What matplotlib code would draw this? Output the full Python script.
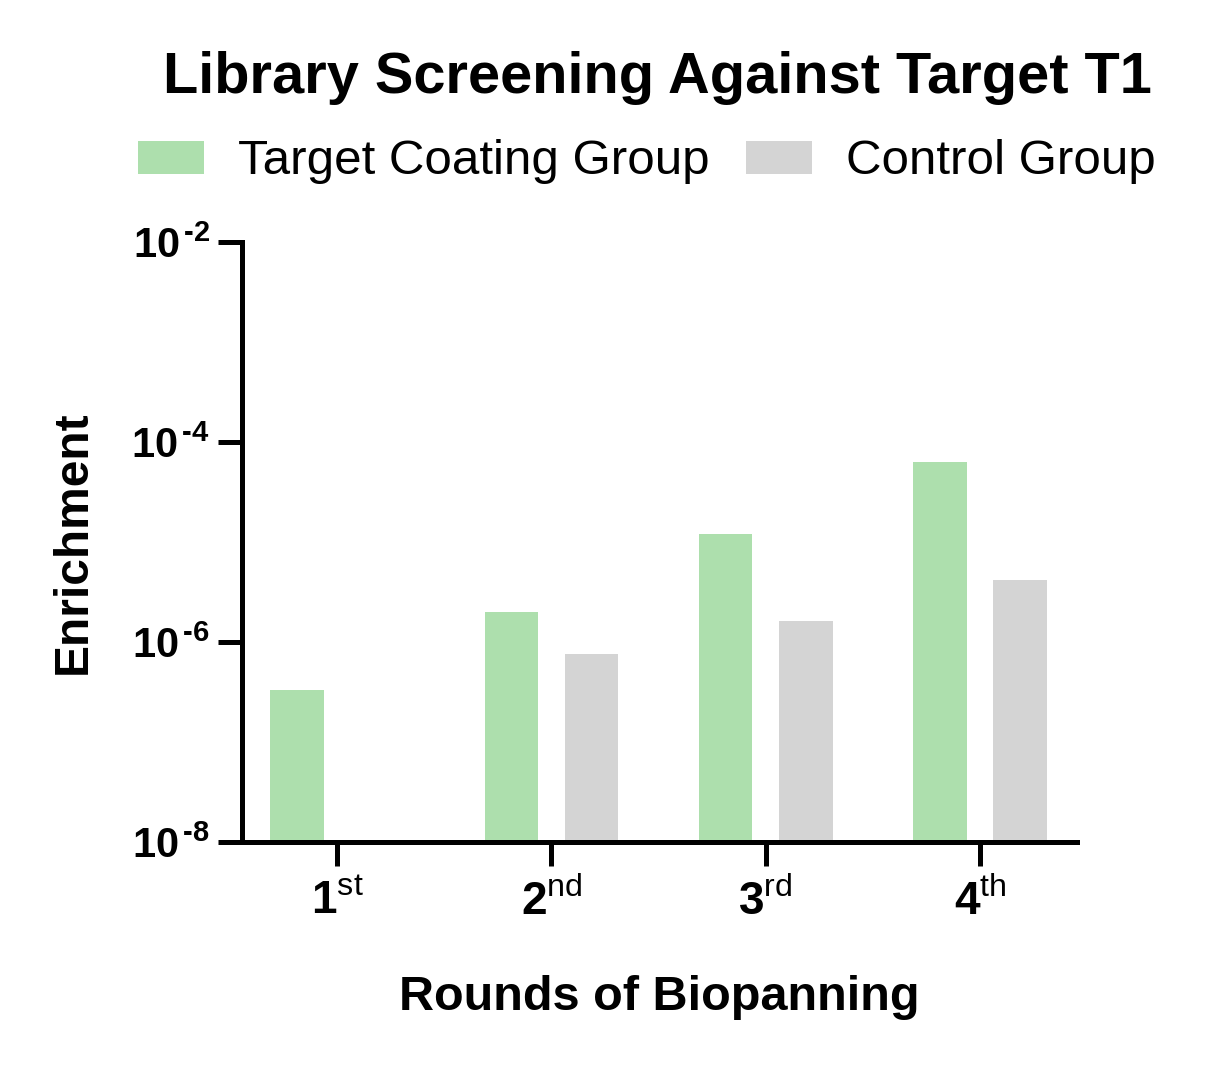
import numpy as np
import matplotlib
matplotlib.use("Agg")
import matplotlib.pyplot as plt
from matplotlib.ticker import FixedLocator, FuncFormatter

# -----------------------------
# Data
# -----------------------------
rounds = ["1", "2", "3", "4"]
suffixes = ["st", "nd", "rd", "th"]
target_coating = [3.2e-7, 2.0e-6, 1.2e-5, 6.3e-5]
control_group = [np.nan, 7.4e-7, 1.6e-6, 4.2e-6]

green = "#addfad"
grey = "#d4d4d4"

plt.rcParams["font.family"] = ["Liberation Sans", "DejaVu Sans"]
plt.rcParams["mathtext.fontset"] = "custom"
plt.rcParams["mathtext.rm"] = "Liberation Sans"
plt.rcParams["mathtext.it"] = "Liberation Sans:italic"
plt.rcParams["mathtext.bf"] = "Liberation Sans:bold"

fig = plt.figure(figsize=(12.18, 10.67), dpi=100)
ax = fig.add_axes([242 / 1218, 1 - 842 / 1067, (1077 - 242) / 1218, 600 / 1067])

x = np.arange(len(rounds))
w = 0.25
off = 0.187
ax.bar(x - off, target_coating, width=w, bottom=1e-8, color=green,
       label="Target Coating Group")
ax.bar(x + off, control_group, width=w, bottom=1e-8, color=grey,
       label="Control Group")

ax.set_yscale("log")
ax.set_ylim(1e-8, 1e-2)
ax.set_xlim(-0.444, 3.453)

# y labels like "10 -2" with a hyphen
ax.yaxis.set_major_locator(FixedLocator([1e-8, 1e-6, 1e-4, 1e-2]))
ax.yaxis.set_minor_locator(FixedLocator([]))
ax.yaxis.set_major_formatter(FuncFormatter(
    lambda v, p: "$\\mathbf{10}^{\\,\\mathbf{\u2010%d}}$" % abs(round(np.log10(v)))))

ax.set_xticks(x)
ax.set_xticklabels([r"$\mathbf{%s}^{\mathrm{%s}}$" % (r, s)
                    for r, s in zip(rounds, suffixes)])

for side in ["top", "right"]:
    ax.spines[side].set_visible(False)
for side in ["left", "bottom"]:
    ax.spines[side].set_linewidth(3.6)
ax.tick_params(axis="both", which="major", length=17, width=3.6,
               color="black")
ax.tick_params(axis="y", pad=6, labelsize=30)
ax.tick_params(axis="x", pad=10, labelsize=33)

ax.set_xlabel("Rounds of Biopanning", fontsize=35, fontweight="bold",
              labelpad=36)
ax.set_ylabel("Enrichment", fontsize=34.5, fontweight="bold", labelpad=26)

fig.text(657 / 1218, 1 - 78 / 1067, "Library Screening Against Target T1",
         ha="center", va="center", fontsize=41.6, fontweight="bold")

fig.legend(loc="center", bbox_to_anchor=(647 / 1218, 1 - 162 / 1067),
           ncol=2, frameon=False, fontsize=35.5, handlelength=1.33,
           handleheight=0.65, handletextpad=0.7, columnspacing=0.73,
           borderpad=0, borderaxespad=0)

fig.savefig("out.png", dpi=100)
